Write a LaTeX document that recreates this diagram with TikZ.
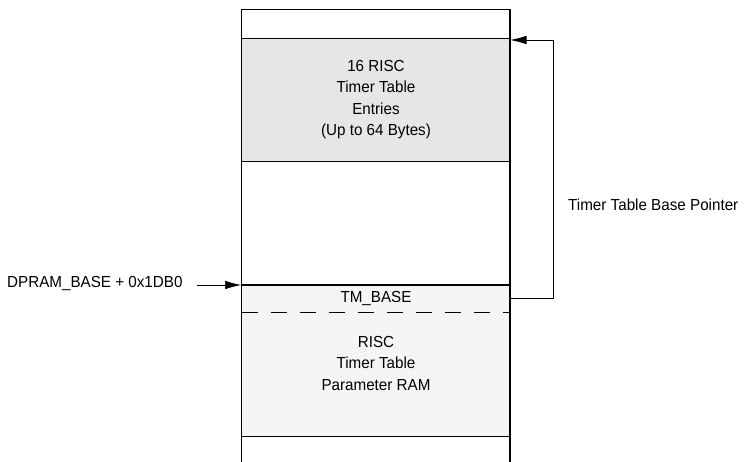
\documentclass[tikz,border=0pt]{standalone}
\usepackage{fontspec}
\setmainfont{Liberation Sans}[FakeStretch=0.95]
\usetikzlibrary{arrows.meta}
\definecolor{graydark}{HTML}{E6E6E6}
\definecolor{graylight}{HTML}{F5F5F5}
\begin{document}
\begin{tikzpicture}[x=1pt,y=-1pt,
  lbl/.style={font=\fontsize{16}{21.5}\selectfont, align=center, inner sep=0pt},
  wall/.style={line width=1.2pt},
  ptr/.style={line width=0.6pt, -{Latex[length=16pt,width=8.5pt]}}]
\useasboundingbox (0,0) rectangle (746,462);
% regions
\fill[graydark] (241.5,38.5) rectangle (510,161.5);
\fill[graylight] (241.5,285) rectangle (510,436);
% walls
\draw[wall] (241.5,462) -- (241.5,9.5) -- (510,9.5) -- (510,462);
\draw[line width=0.9pt] (241.5,38.5) -- (510,38.5);
\draw[line width=0.9pt] (241.5,161.5) -- (510,161.5);
\draw[line width=1.2pt] (241.5,285) -- (510,285);
\draw[line width=0.7pt, dash pattern=on 16pt off 13pt] (241.5,312.5) -- (510,312.5);
\draw[line width=0.9pt] (241.5,436) -- (510,436);
% texts
\node[lbl] (entries) at (376,99.5) {16 RISC\\Timer Table\\Entries\\(Up to 64 Bytes)};
\node[lbl] (tmbase) at (376,298.5) {TM\_BASE};
\node[lbl] (param) at (376,363) {RISC\\Timer Table\\Parameter RAM};
\node[lbl, anchor=west] (ptrlbl) at (568,205) {Timer Table Base Pointer};
\node[lbl, anchor=west] (dpram) at (7,284) {DPRAM\_BASE + 0x1DB0};
% connectors
\coordinate (topin) at (510.5,40);
\coordinate (botout) at (510,298.5);
\coordinate (dstart) at (197,285);
\coordinate (dend) at (241,285);
\draw[line width=0.6pt] (botout) -- (553,298.5) -- (553,40) -- (524,40);
\draw[ptr] (553,40) -- (topin);
\draw[ptr] (dstart) -- (dend);
\end{tikzpicture}
\end{document}
